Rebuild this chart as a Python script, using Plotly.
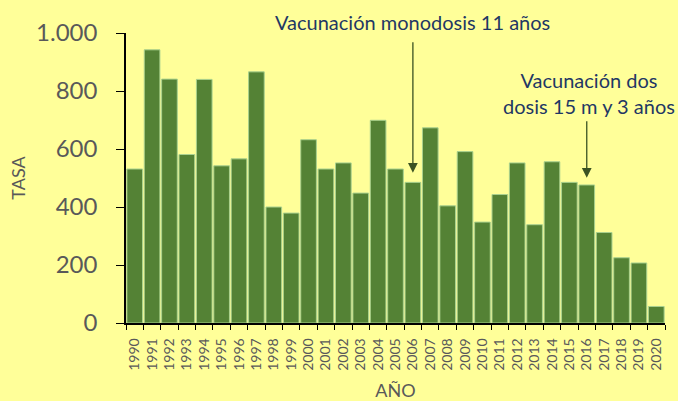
import plotly.graph_objects as go

years = [str(y) for y in range(1990, 2021)]
tasa = [531, 942, 841, 581, 840, 542, 566, 866, 400, 379,
        632, 531, 552, 448, 699, 531, 485, 673, 404, 591,
        348, 443, 552, 339, 556, 485, 476, 312, 225, 207, 57]
y_ticks = [0, 200, 400, 600, 800, 1000]

FONT = "Lato"
GRAY = "#595959"
NAVY = "#1F3864"
ARROW = "#3B5323"

L, R, T, B, W, H = 126, 13, 33, 78, 678, 401
PW, PH = W - L - R, H - T - B


def px(x):
    return (x - L) / PW


def py(y):
    return (H - B - y) / PH


fig = go.Figure(go.Bar(
    x=years, y=tasa,
    marker=dict(color="#548235", line=dict(color="#A9D18E", width=1)),
    hoverinfo="x+y",
))

fig.update_layout(
    width=W, height=H,
    margin=dict(l=L, r=R, t=T, b=B, autoexpand=False),
    paper_bgcolor="#FFFF99", plot_bgcolor="#FFFF99",
    separators=",.",
    bargap=0.1,
    showlegend=False,
    font=dict(family=FONT, color=GRAY),
)
fig.update_yaxes(
    range=[0, 1000], tickvals=y_ticks, tickformat=",d",
    showgrid=False, zeroline=False,
    showline=True, linecolor="black", linewidth=1.5,
    ticks="outside", ticklen=8, tickcolor="black", ticklabelstandoff=14,
    tickfont=dict(size=24, color=GRAY, family=FONT),
    title=dict(text="TASA", font=dict(size=18, color=GRAY), standoff=6),
)
fig.update_xaxes(
    type="category", tickangle=-90, range=[-0.5, len(years) - 0.5],
    showgrid=False, showline=True, linecolor="black", linewidth=1.5,
    ticks="outside", ticklen=5, tickcolor="black", tickson="boundaries",
    ticklabelstandoff=8,
    tickfont=dict(size=14, color=GRAY, family=FONT),
    title=dict(text="AÑO", font=dict(size=18, color=GRAY), standoff=18),
)

fig.add_annotation(x=years.index("2006"), y=518, xref="x", yref="y",
                   ax=0, ay=973, axref="pixel", ayref="y",
                   text="", showarrow=True, arrowhead=2, arrowsize=1.5,
                   arrowwidth=1.3, arrowcolor=ARROW)
fig.add_annotation(x=years.index("2016"), y=501, xref="x", yref="y",
                   ax=0, ay=701, axref="pixel", ayref="y",
                   text="", showarrow=True, arrowhead=2, arrowsize=1.5,
                   arrowwidth=1.3, arrowcolor=ARROW)

fig.add_annotation(x=px(412), y=py(22), xref="paper", yref="paper",
                   xanchor="center", yanchor="middle",
                   text="Vacunación monodosis 11 años", showarrow=False,
                   font=dict(size=20, color=NAVY, family=FONT))
fig.add_annotation(x=px(589), y=py(93), xref="paper", yref="paper",
                   xanchor="center", yanchor="middle",
                   text="Vacunación dos<br>dosis 15 m y 3 años", showarrow=False,
                   font=dict(size=20, color=NAVY, family=FONT))

fig.write_html("out.html",
               config={"displayModeBar": False},
               post_script="document.body.style.margin='0';"
                           "document.body.style.background='#FFFF99';")
